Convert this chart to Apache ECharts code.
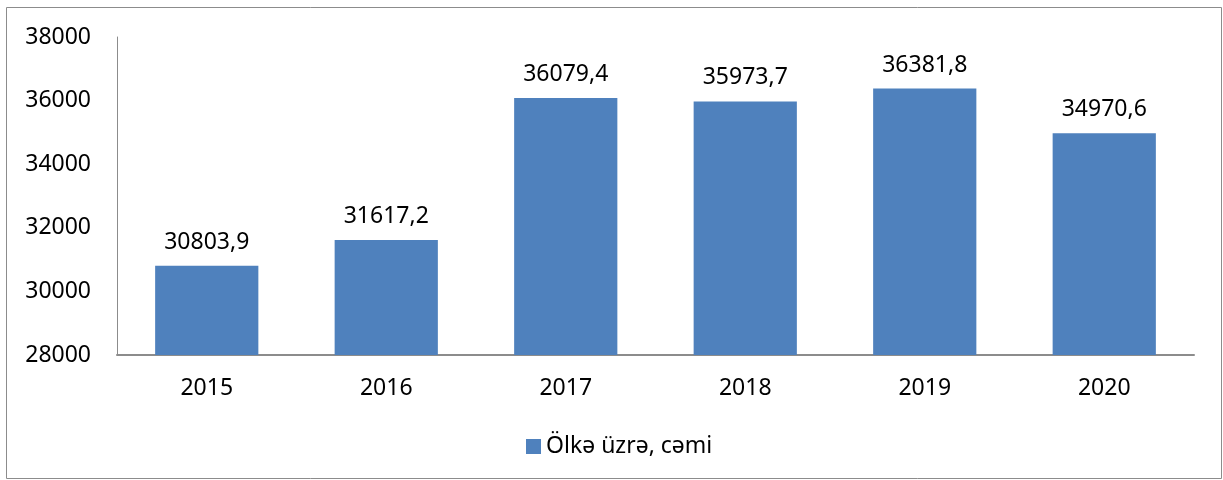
<!DOCTYPE html>
<html>
<head>
<meta charset="utf-8">
<script src="https://cdn.jsdelivr.net/npm/echarts@6/dist/echarts.min.js"></script>
<style>
  html, body { margin: 0; padding: 0; background: #fff; }
  #chart { width: 1223px; height: 480px; }
</style>
</head>
<body>
<div id="chart"></div>
<script>
// data
const years = ['2015', '2016', '2017', '2018', '2019', '2020'];
const values = [30803.9, 31617.2, 36079.4, 35973.7, 36381.8, 34970.6];
const seriesName = 'Ölkə üzrə, cəmi';

const chart = echarts.init(document.getElementById('chart'));

const font = 'Noto Sans';

const option = {
	animation: false,
	textStyle: { fontFamily: font },
	graphic: [{
		type: 'rect',
		shape: { x: 6.5, y: 7.5, width: 1215, height: 471 },
		style: { fill: 'none', stroke: '#8c8c8c', lineWidth: 1 }
	}],
	grid: { left: 117, top: 37, right: 29, bottom: 125, containLabel: false },
	legend: {
		bottom: 17,
		left: 521,
		itemWidth: 15,
		itemHeight: 15,
		itemGap: 6,
		icon: 'rect',
		textStyle: { fontSize: 23, color: '#000', fontFamily: font },
		data: [seriesName]
	},
	xAxis: {
		type: 'category',
		data: years,
		axisTick: { show: false },
		axisLine: { lineStyle: { color: '#8c8c8c', width: 2 } },
		axisLabel: { fontSize: 23, color: '#000', margin: 22, fontFamily: font }
	},
	yAxis: {
		type: 'value',
		min: 28000,
		max: 38000,
		interval: 2000,
		splitLine: { show: false },
		axisTick: { show: false },
		axisLine: { show: true, lineStyle: { color: '#8c8c8c', width: 1 } },
		axisLabel: {
			fontSize: 23, color: '#000', margin: 26, fontFamily: font,
			formatter: v => String(v)
		}
	},
	series: [{
		name: seriesName,
		type: 'bar',
		data: values,
		barCategoryGap: '42.5%',
		itemStyle: { color: '#4F81BD' },
		label: {
			show: true,
			position: 'top',
			distance: 12,
			fontSize: 23,
			color: '#000',
			fontFamily: font,
			// comma as decimal separator
			formatter: p => p.value.toFixed(1).replace('.', ',')
		}
	}]
};

chart.setOption(option);
</script>
</body>
</html>
